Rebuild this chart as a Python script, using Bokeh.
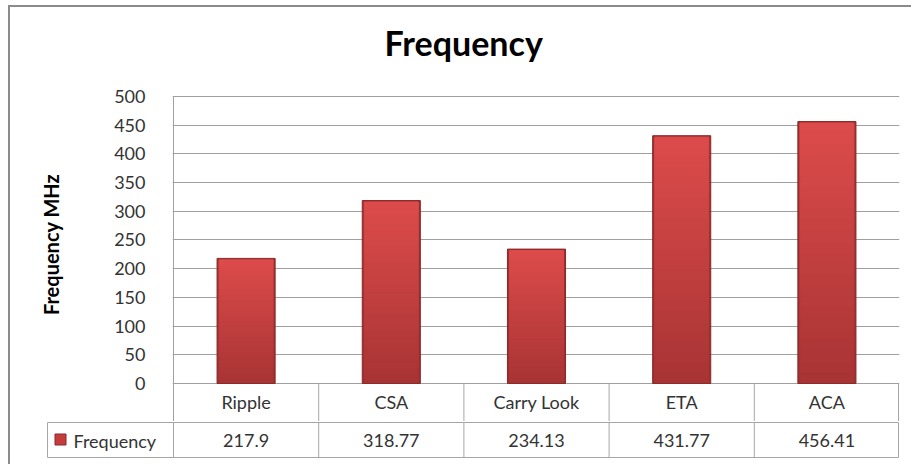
from bokeh.plotting import figure
from bokeh.layouts import column
from bokeh.models import Range1d, FixedTicker
from bokeh.core.properties import value
from bokeh.embed import file_html
from bokeh.resources import INLINE

# ---- data ----
categories = ["Ripple", "CSA", "Carry Look", "ETA", "ACA"]
frequency = [217.9, 318.77, 234.13, 431.77, 456.41]
value_labels = ["217.9", "318.77", "234.13", "431.77", "456.41"]
y_ticks = [0, 50, 100, 150, 200, 250, 300, 350, 400, 450, 500]
series_name = "Frequency"
title_text = "Frequency"
y_label = "Frequency  MHz"

FONT = "Lato"
GRID = "#a0a0a0"
TABLE_LINE = "#a6a6a6"
TEXT = "#333333"

n = len(categories)
xs = list(range(n))
px_per_unit = 726 / n          # horizontal scale of the category axis
y_px = 286.5 / 500             # vertical scale of the value axis
y_min = -(421 - 383) / y_px    # frame extends down through the header row
y_max = 500 + (96 - 62) / y_px # and up a little above the 500 line
header_y = -(402 - 383) / y_px

# ---- main chart (incl. table header row) ----
p = figure(width=901, height=414, output_backend="svg", toolbar_location=None,
           x_range=Range1d(-0.5 - 1 / px_per_unit, n - 0.5),
           y_range=Range1d(y_min, y_max),
           min_border_left=162, min_border_right=12, min_border_top=55,
           min_border_bottom=0)
p.frame_align = False
p.outline_line_color = None
p.background_fill_color = "white"
p.border_fill_color = "white"

p.title.text = title_text
p.title.align = "left"
p.title.offset = 212
p.title.standoff = 0
p.title.text_font = FONT
p.title.text_font_size = "34px"
p.title.text_font_style = "bold"
p.title.text_color = "#000000"

p.xaxis.visible = False
p.xgrid.visible = False
p.ygrid.grid_line_color = GRID
p.ygrid.ticker = FixedTicker(ticks=y_ticks)
p.yaxis.ticker = FixedTicker(ticks=y_ticks)
p.yaxis.axis_line_color = None
p.yaxis.major_tick_line_color = None
p.yaxis.minor_tick_line_color = None
p.yaxis.major_label_standoff = 21
p.yaxis.major_label_text_font = FONT
p.yaxis.major_label_text_font_size = "18px"
p.yaxis.major_label_text_color = TEXT
p.yaxis.axis_label = y_label
p.yaxis.axis_label_text_font = FONT
p.yaxis.axis_label_text_font_size = "20px"
p.yaxis.axis_label_text_font_style = "bold"
p.yaxis.axis_label_text_color = "#000000"
p.yaxis.axis_label_standoff = 48

# left edge of the plot area, continuing through the header row
p.segment(x0=[-0.5], y0=[y_ticks[-1]], x1=[-0.5], y1=[y_min],
          line_color=GRID, line_width=1)

# bars: dark base + vertical gradient bands
bar_w = 0.4
p.vbar(x=xs, top=frequency, bottom=0, width=bar_w,
       fill_color="#9c2f2f", line_color="#8a2828", line_width=1)

N = 24
top_rgb = (0xdd, 0x4b, 0x4b)
bot_rgb = (0xa8, 0x34, 0x34)
bx, bb, bt, bc = [], [], [], []
for i, v in enumerate(frequency):
    for k in range(N):
        f = (k + 0.5) / N
        c = tuple(int(round(bot_rgb[j] + (top_rgb[j] - bot_rgb[j]) * f)) for j in range(3))
        bx.append(i)
        bb.append(v * k / N + (0.0 if k > 0 else 1.5))
        bt.append(v * (k + 1) / N - (2.5 if k == N - 1 else 0.0))
        bc.append("#%02x%02x%02x" % c)
p.vbar(x=bx, bottom=bb, top=bt, width=bar_w * 0.93, fill_color=bc,
       line_color=bc, line_width=1)

# header row of the data table (category names)
right_x = n - 0.5 - 1 / px_per_unit
hx = [i + 0.5 for i in range(n - 1)] + [right_x]
p.segment(x0=hx, y0=[0] * n, x1=hx, y1=[y_min] * n,
          line_color=TABLE_LINE, line_width=1)
p.text(x=xs, y=[header_y] * n, text=categories, text_align="center",
       text_baseline="middle", text_font=value(FONT),
       text_font_size="18px", text_color=TEXT)

# ---- value row of the data table ----
t_left = -0.5 - 127 / px_per_unit
left_x = -0.5 - 126 / px_per_unit
t = figure(width=901, height=43, output_backend="svg", toolbar_location=None,
           x_range=Range1d(t_left, n - 0.5), y_range=Range1d(-1, 36),
           min_border_left=36, min_border_right=12, min_border_top=0,
           min_border_bottom=6)
t.frame_align = False
t.axis.visible = False
t.grid.visible = False
t.outline_line_color = None
t.background_fill_color = "white"
t.border_fill_color = "white"

row_top = 35
vx = [left_x] + [i - 0.5 for i in range(n)] + [right_x]
seg_x0 = [left_x, left_x] + vx
seg_x1 = [right_x, right_x] + vx
seg_y0 = [row_top, 0] + [row_top] * len(vx)
seg_y1 = [row_top, 0] + [0] * len(vx)
t.segment(x0=seg_x0, y0=seg_y0, x1=seg_x1, y1=seg_y1,
          line_color=TABLE_LINE, line_width=1)

t.text(x=xs, y=[17] * n, text=value_labels, text_align="center",
       text_baseline="middle", text_font=value(FONT),
       text_font_size="18px", text_color=TEXT)
t.scatter(x=[-0.5 - 113 / px_per_unit], y=[18], marker="square", size=11,
          fill_color="#c43c3c", line_color="#8a2828")
t.text(x=[-0.5 - 100 / px_per_unit], y=[17], text=[series_name],
       text_align="left", text_baseline="middle", text_font=value(FONT),
       text_font_size="18px", text_color=TEXT)

layout = column(p, t, styles={"margin-left": "8px", "margin-top": "5px",
                              "border-left": "2px solid #8c8c8c",
                              "border-top": "2px solid #8c8c8c"})

open("out.html", "w").write(file_html(layout, INLINE))
